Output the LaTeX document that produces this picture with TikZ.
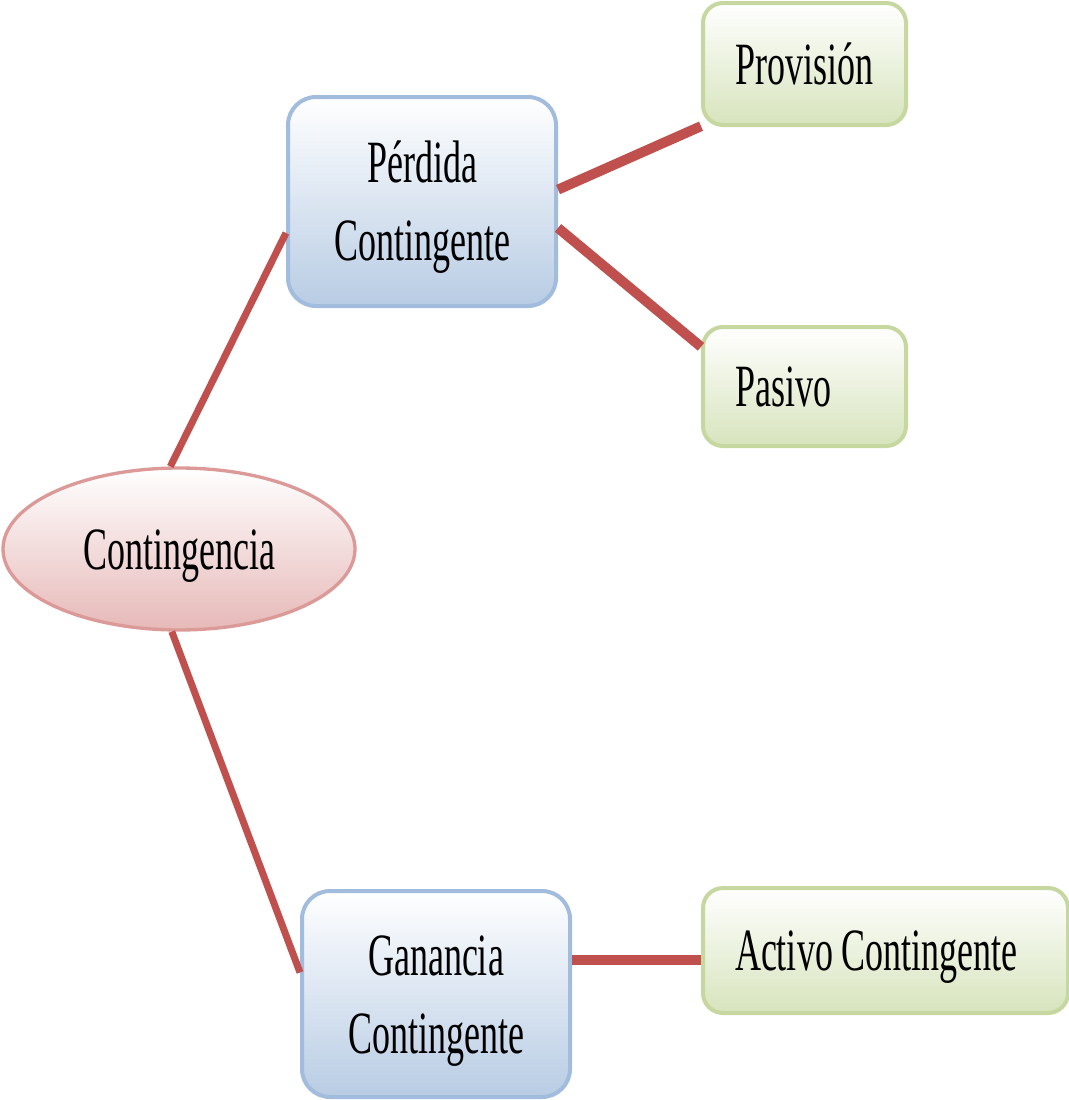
\documentclass[tikz,border=0pt]{standalone}
\usepackage{fontspec}
\setmainfont{Liberation Serif}[FakeStretch=0.6]
\usetikzlibrary{shapes.geometric}
\definecolor{blueb}{HTML}{B8CCE4}
\definecolor{blued}{HTML}{A2BCDD}
\definecolor{greenb}{HTML}{D7E4BD}
\definecolor{greend}{HTML}{C6D8A0}
\definecolor{pinkb}{HTML}{E6B9B8}
\definecolor{pinkd}{HTML}{DB9A98}
\definecolor{redl}{HTML}{C0504D}
\newcommand{\narrowsp}{\hspace{6.75pt}}
\tikzset{
  lbl/.style={font=\fontsize{45}{58.5}\selectfont, text=black},
  oneline/.style={text height=30pt, text depth=0pt},
  twoline/.style={text height=88.5pt, text depth=0pt},
  bluebox/.style={lbl, twoline, rectangle, rounded corners=21pt, draw=blued, line width=3pt,
    top color=white, bottom color=blueb, align=center, inner sep=0pt},
  greenbox/.style={lbl, oneline, rectangle, rounded corners=15pt, draw=greend, line width=3pt,
    top color=white, bottom color=greenb, align=left, inner ysep=0pt, inner xsep=24pt},
  pinkell/.style={lbl, oneline, ellipse, draw=pinkd, line width=2.5pt,
    top color=white, bottom color=pinkb, inner sep=0pt},
  conn/.style={draw=redl, line cap=butt},
}
\begin{document}
\begin{tikzpicture}[x=0.75pt, y=-0.75pt]
\useasboundingbox (0,0) rectangle (1069,1100);

\node[pinkell, minimum width=352*0.75pt, minimum height=162*0.75pt] (ell) at (179,549) {Contingencia};
\node[bluebox, minimum width=268*0.75pt, minimum height=209*0.75pt] (perd) at (422,201.5) {Pérdida\\Contingente};
\node[bluebox, minimum width=268*0.75pt, minimum height=206*0.75pt] (gan) at (436,994) {Ganancia\\Contingente};
\node[greenbox, minimum width=203*0.75pt, minimum height=122*0.75pt, text width=139*0.75pt] (prov) at (804.5,64) {Provisión};
\node[greenbox, minimum width=203*0.75pt, minimum height=119*0.75pt, text width=139*0.75pt] (pas) at (804.5,386.5) {Pasivo};
\node[greenbox, minimum width=365*0.75pt, minimum height=125*0.75pt, text width=301*0.75pt] (act) at (885.5,950.5) {Activo\narrowsp Contingente};

\draw[conn, line width=5.25pt] (ell.96) -- (perd.193);
\draw[conn, line width=5.25pt] (ell.265) -- (gan.171);
\draw[conn, line width=7.5pt] (perd.5.5) -- (prov.211);
\draw[conn, line width=7.5pt] (perd.-11) -- (pas.159);
\draw[conn, line width=7.5pt] (gan.14) -- (gan.14 -| act.west);
\end{tikzpicture}
\end{document}
